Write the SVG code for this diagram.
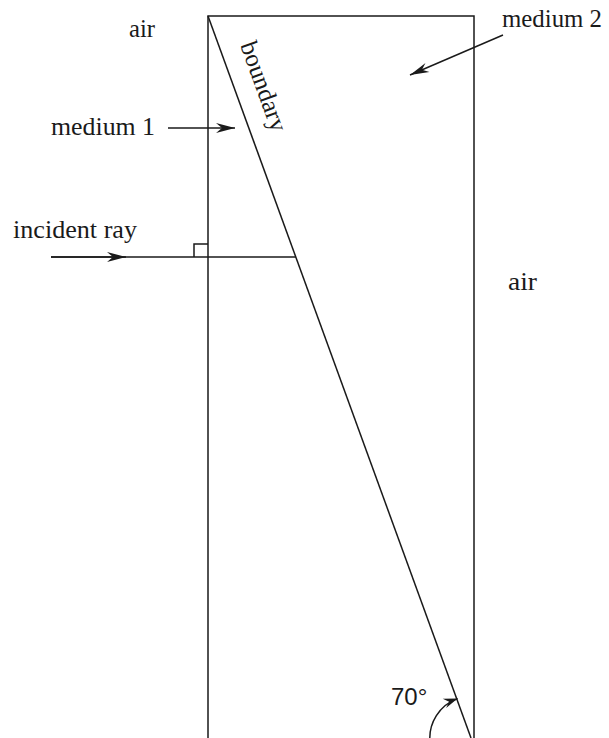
<svg xmlns="http://www.w3.org/2000/svg" width="609" height="738" viewBox="0 0 609 738">
  <style>
    .ln { fill: none; stroke: #1a1a1a; stroke-width: 1.5; }
    .lbl { font-family: "Liberation Serif", "Times New Roman", serif; font-size: 25px; fill: #1a1a1a; }
    .ang { font-family: "Liberation Sans", Arial, sans-serif; font-size: 24px; fill: #1a1a1a; }
  </style>
  <defs>
    <marker id="arr" markerUnits="userSpaceOnUse" markerWidth="24" markerHeight="14" viewBox="-20 -7 22 14" refX="0" refY="0" orient="auto">
      <path d="M0,0 L-19,-5 L-13,0 L-19,5 Z" fill="#1a1a1a"/>
    </marker>
    <marker id="arrs" markerUnits="userSpaceOnUse" markerWidth="18" markerHeight="14" viewBox="-16 -7 18 14" refX="0" refY="0" orient="auto">
      <path d="M0,0 L-14,-5 L-9,0 L-14,5 Z" fill="#1a1a1a"/>
    </marker>
  </defs>
  <rect width="609" height="738" fill="#ffffff"/>

  <g id="block">
    <path class="ln" d="M208,745 L208,16 L474,16 L474,745"/>
  </g>
  <g id="boundary">
    <line class="ln" x1="208" y1="16" x2="471" y2="738"/>
    <text class="lbl" transform="translate(240,45) rotate(70)" textLength="94" lengthAdjust="spacingAndGlyphs">boundary</text>
  </g>
  <g id="right-angle">
    <path class="ln" d="M194,257 L194,244 L208,244"/>
  </g>
  <g id="angle-70">
    <text class="ang" x="391" y="705">70°</text>
  </g>
  <g id="labels">
    <text class="lbl" x="129" y="37" textLength="26" lengthAdjust="spacingAndGlyphs">air</text>
    <text class="lbl" x="508" y="290" textLength="29" lengthAdjust="spacingAndGlyphs">air</text>
    <text class="lbl" x="51" y="135" textLength="104" lengthAdjust="spacingAndGlyphs">medium 1</text>
    <text class="lbl" x="502" y="27" textLength="100" lengthAdjust="spacingAndGlyphs">medium 2</text>
    <text class="lbl" x="13" y="238" textLength="124" lengthAdjust="spacingAndGlyphs">incident ray</text>
  </g>
  <g id="connectors">
    <line class="ln" x1="168" y1="128" x2="235" y2="128" marker-end="url(#arr)"/>
    <line class="ln" x1="503" y1="35" x2="410" y2="75" marker-end="url(#arr)"/>
    <line class="ln" x1="51" y1="257" x2="296" y2="257"/>
    <line class="ln" x1="51" y1="257" x2="126" y2="257" marker-end="url(#arr)"/>
    <path class="ln" d="M430,742 A42,42 0 0 1 457.6,698.6" marker-end="url(#arrs)"/>
  </g>
</svg>
